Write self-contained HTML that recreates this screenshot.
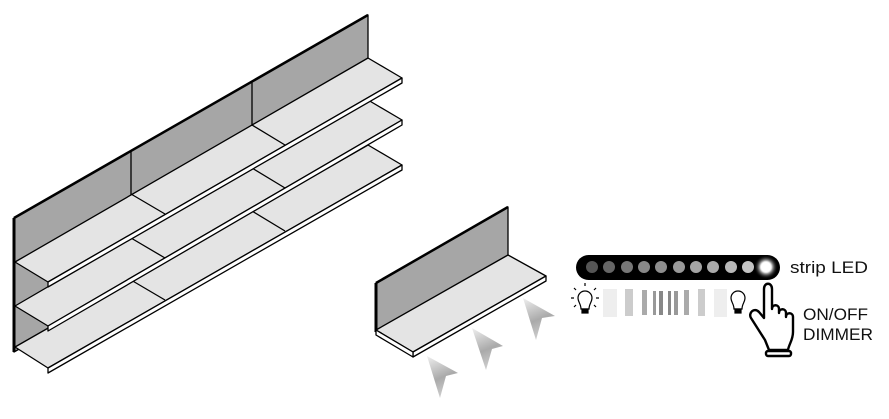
<!DOCTYPE html>
<html><head><meta charset="utf-8"><style>
html,body{margin:0;padding:0;background:#fff;}
svg{display:block}
text{font-family:"Liberation Sans",sans-serif;fill:#111}
</style></head><body>
<svg width="889" height="419" viewBox="0 0 889 419" xmlns="http://www.w3.org/2000/svg">
<defs>
<linearGradient id="ag" x1="0" y1="0" x2="0.3" y2="1">
<stop offset="0" stop-color="#f0f0f0"/><stop offset="0.6" stop-color="#aaa"/><stop offset="1" stop-color="#ccc"/>
</linearGradient>
<radialGradient id="glow"><stop offset="0" stop-color="#fff"/><stop offset="0.45" stop-color="#eee"/><stop offset="1" stop-color="#000" stop-opacity="0"/></radialGradient>
</defs>
<g stroke="#000" stroke-width="1.3" stroke-linejoin="round">
<polygon points="14,218 368,15 368,150 14,352" fill="#a6a6a6"/>
<line x1="14" y1="218" x2="14" y2="352" stroke-width="3"/>
<line x1="14" y1="218" x2="368" y2="15" stroke-width="2.5"/>
<line x1="131" y1="151" x2="131" y2="200"/>
<line x1="252" y1="82" x2="252" y2="128"/>
<polygon points="15,347 368,145 402,165 48,368" fill="#e4e4e4"/>
<polygon points="48,368 402,165 402,170 48,373" fill="#fff"/>
<line x1="131" y1="280" x2="165" y2="300"/>
<line x1="252" y1="211" x2="285" y2="231"/>
<polygon points="15,306 368,100 402,120 48,326" fill="#e4e4e4"/>
<polygon points="48,326 402,120 402,125 48,331" fill="#fff"/>
<line x1="131" y1="238" x2="165" y2="258"/>
<line x1="252" y1="168" x2="285" y2="188"/>
<polygon points="15,262 368,58 402,78 48,282" fill="#e4e4e4"/>
<polygon points="48,282 402,78 402,83 48,287" fill="#fff"/>
<line x1="131" y1="194" x2="165" y2="214"/>
<line x1="252" y1="125" x2="285" y2="145"/>
<polygon points="376,283 508,207 508,256 376,332" fill="#a6a6a6"/>
<line x1="376" y1="283" x2="376" y2="332" stroke-width="3"/>
<line x1="376" y1="283" x2="508" y2="207" stroke-width="2.5"/>
<polygon points="376,330 508,255 546,276 413,352" fill="#e4e4e4"/>
<polygon points="413,352 546,276 546,281 413,357" fill="#fff"/>
<polygon points="376,330 413,352 413,357 376,335" fill="#fff"/>
</g>
<g fill="url(#ag)">
<polygon points="427,356 458,373 446,376 440,398"/>
<polygon points="472,328 503,346 492,349 486,370"/>
<polygon points="523,298 555,316 542,318 536,340"/>
</g>
<rect x="576" y="255" width="204" height="25" rx="12.5" fill="#000"/>
<g>
<circle cx="592" cy="267" r="6" fill="#555"/>
<circle cx="609" cy="267" r="6" fill="#666"/>
<circle cx="627" cy="267" r="6" fill="#777"/>
<circle cx="644" cy="267" r="6" fill="#888"/>
<circle cx="661" cy="267" r="6" fill="#8e8e8e"/>
<circle cx="679" cy="267" r="6" fill="#999"/>
<circle cx="696" cy="267" r="6" fill="#a4a4a4"/>
<circle cx="713" cy="267" r="6" fill="#aaa"/>
<circle cx="731" cy="267" r="6" fill="#b8b8b8"/>
<circle cx="748" cy="267" r="6" fill="#c4c4c4"/>
<circle cx="766" cy="267" r="12" fill="url(#glow)"/>
<circle cx="766" cy="267" r="5" fill="#fff"/>
</g>
<text x="790" y="273" font-size="17" textLength="78" lengthAdjust="spacingAndGlyphs">strip LED</text>
<rect x="603" y="289" width="14" height="28" fill="#eee"/>
<rect x="625" y="289" width="8" height="27" fill="#ccc"/>
<rect x="642" y="290" width="5" height="25" fill="#aaa"/>
<rect x="653" y="291" width="3" height="24" fill="#999"/>
<rect x="659" y="291" width="4" height="24" fill="#888"/>
<rect x="668" y="291" width="3" height="24" fill="#888"/>
<rect x="674" y="291" width="4" height="24" fill="#999"/>
<rect x="684" y="290" width="5" height="25" fill="#aaa"/>
<rect x="698" y="289" width="7" height="27" fill="#ccc"/>
<rect x="714" y="289" width="13" height="28" fill="#eee"/>
<g stroke="#000" stroke-width="1.2" fill="#fff">
<path d="M581,309 C581,304 578,302 578,298 A7,7 0 1 1 592,298 C592,302 589,304 589,309 Z"/>
<rect x="582" y="309" width="6" height="4" fill="#000"/>
<path d="M585,286 v-3 M576,290 l-2,-2 M594,290 l2,-2 M574,298 h-3 M596,298 h3 M576,305 l-2,2 M594,305 l2,2" fill="none"/>
<path d="M734,309 C734,304 731,302 731,298 A7,7 0 1 1 745,298 C745,302 742,304 742,309 Z"/>
<rect x="735" y="309" width="6" height="4" fill="#000"/>
</g>
<g stroke="#000" stroke-width="2.4" fill="#fff" stroke-linejoin="round">
<path d="M765,340 L751,318 C748,313 754,307 759,312 L764,318 L764,289 C764,282 772,282 772,289 L772,309 C772,304 779,304 779,309 L779,313 C779,308 786,308 786,313 L786,317 C786,312 793,312 793,317 L793,332 C793,340 789,344 788,350 L769,350 Z"/>
<rect x="766" y="351" width="25" height="5" rx="2"/>
</g>
<text x="803" y="320" font-size="17" textLength="65" lengthAdjust="spacingAndGlyphs">ON/OFF</text>
<text x="803" y="340" font-size="17" textLength="70" lengthAdjust="spacingAndGlyphs">DIMMER</text>
</svg>
</body></html>
